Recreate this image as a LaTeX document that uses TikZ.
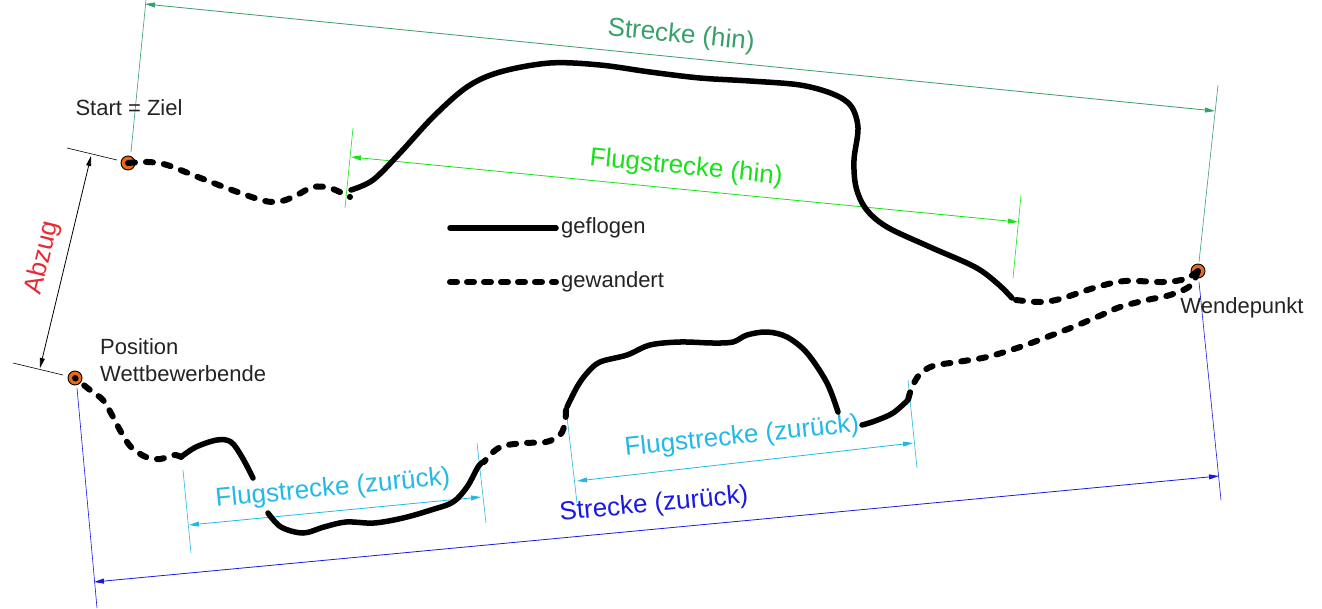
\documentclass[tikz,border=0pt]{standalone}
\usepackage{fontspec}
\setmainfont{Liberation Sans}
\usetikzlibrary{arrows.meta}
\definecolor{streckehin}{RGB}{55,160,105}
\definecolor{flughin}{RGB}{25,225,25}
\definecolor{flugzur}{RGB}{35,185,230}
\definecolor{streckezur}{RGB}{25,25,225}
\definecolor{abzugred}{RGB}{235,40,50}
\definecolor{dotorange}{RGB}{235,105,20}
\definecolor{txtgray}{RGB}{35,35,35}
\tikzset{
  dotnode/.style={circle,draw=black,line width=0.9pt,fill=dotorange,minimum size=14pt,inner sep=0pt},
  flown/.style={line width=5.5pt,line cap=round,black},
  walked/.style={line width=6pt,line cap=round,black,dash pattern=on 7pt off 11pt},
  dimline/.style={line width=0.8pt,{Triangle[length=10pt,width=5pt]}-{Triangle[length=10pt,width=5pt]}},
  extline/.style={line width=0.6pt},
  lbl/.style={text=txtgray,font=\fontsize{22}{27}\selectfont,inner sep=1pt},
  dimlbl/.style={font=\fontsize{26}{30}\selectfont,inner sep=1pt}
}
\begin{document}
\begin{tikzpicture}[x=1pt,y=-1pt]
\useasboundingbox (0,0) rectangle (1322,608);
% points
\node[dotnode] (start) at (128,163) {};
\node[dotnode] (pos) at (75,378) {};
\node[dotnode] (wende) at (1198,271) {};

% ---------- Strecke (hin)
\coordinate (shA1) at (131,152); \coordinate (shA2) at (146,0);
\coordinate (shB1) at (1199,262); \coordinate (shB2) at (1218,85);
\coordinate (shL) at (145,4); \coordinate (shR) at (1215,111);
\draw[extline,streckehin] (shA1) -- (shA2);
\draw[extline,streckehin] (shB1) -- (shB2);
\draw[dimline,streckehin] (shL) -- (shR);
\node[dimlbl,text=streckehin,rotate=-5.7] (tsh) at (681,36) {Strecke (hin)};

% ---------- Flugstrecke (hin)
\coordinate (fhA1) at (345,208); \coordinate (fhA2) at (353,128);
\coordinate (fhB1) at (1013,278); \coordinate (fhB2) at (1021,195);
\coordinate (fhL) at (351,157); \coordinate (fhR) at (1018,222);
\draw[extline,flughin] (fhA1) -- (fhA2);
\draw[extline,flughin] (fhB1) -- (fhB2);
\draw[dimline,flughin] (fhL) -- (fhR);
\node[dimlbl,text=flughin,rotate=-5.7] (tfh) at (686,168) {Flugstrecke (hin)};

% ---------- Strecke (zurück)
\coordinate (szA1) at (77,388); \coordinate (szA2) at (97,608);
\coordinate (szB1) at (1199,282); \coordinate (szB2) at (1221,500);
\coordinate (szL) at (94,582); \coordinate (szR) at (1219,476);
\draw[extline,streckezur] (szA1) -- (szA2);
\draw[extline,streckezur] (szB1) -- (szB2);
\draw[dimline,streckezur] (szL) -- (szR);
\node[dimlbl,text=streckezur,rotate=5.4] (tsz) at (654,505) {Strecke (zurück)};

% ---------- Flugstrecke (zurück) left
\coordinate (fzA1) at (183,470); \coordinate (fzA2) at (191,553);
\coordinate (fzB1) at (477,443); \coordinate (fzB2) at (486,523);
\coordinate (fzL) at (189,525); \coordinate (fzR) at (481,497);
\draw[extline,flugzur] (fzA1) -- (fzA2);
\draw[extline,flugzur] (fzB1) -- (fzB2);
\draw[dimline,flugzur] (fzL) -- (fzR);
\node[dimlbl,text=flugzur,rotate=5.5] (tfz1) at (333,489) {Flugstrecke (zurück)};

% ---------- Flugstrecke (zurück) right
\coordinate (gzA1) at (566,408); \coordinate (gzA2) at (577,503);
\coordinate (gzB1) at (908,380); \coordinate (gzB2) at (917,468);
\coordinate (gzL) at (577,481); \coordinate (gzR) at (913,443);
\draw[extline,flugzur] (gzA1) -- (gzA2);
\draw[extline,flugzur] (gzB1) -- (gzB2);
\draw[dimline,flugzur] (gzL) -- (gzR);
\node[dimlbl,text=flugzur,rotate=6] (tfz2) at (742,437) {Flugstrecke (zurück)};

% ---------- Abzug
\coordinate (abA1) at (67,148); \coordinate (abA2) at (117,160);
\coordinate (abB1) at (13,363); \coordinate (abB2) at (63,375);
\coordinate (abT) at (91,156); \coordinate (abB) at (40,368);
\draw[extline,black] (abA1) -- (abA2);
\draw[extline,black] (abB1) -- (abB2);
\draw[dimline,black] (abT) -- (abB);
\node[dimlbl,text=abzugred,rotate=76] (tab) at (43,258) {Abzug};

% ---------- outward route
\draw[walked] plot[smooth,tension=0.55] coordinates {(start.center) (148,162) (167,165) (198,177) (232,190) (265,201) (282,201) (297,195) (313,187) (330,188) (350,197)};
\draw[flown] plot[smooth,tension=0.55] coordinates {(351,190) (373,180) (400,153) (433,117) (467,87) (500,72) (550,63) (600,65) (650,72) (700,78) (750,81) (800,85) (833,94) (851,106) (858,128) (854,160) (856,187) (866,209) (887,227) (930,247) (975,267) (998,284) (1012,298)};
\draw[walked] plot[smooth,tension=0.55] coordinates {(1016,300) (1040,302) (1060,299) (1097,287) (1125,281) (1163,282) (1185,279) (wende.center)};

% ---------- return route
\draw[walked] plot[smooth,tension=0.55] coordinates {(wende.center) (1190,286) (1170,295) (1147,300) (1120,307) (1097,317) (1073,327) (1047,337) (1020,347) (987,357) (957,362) (933,366) (920,374) (912,387) (908,400)};
\draw[flown] plot[smooth,tension=0.55] coordinates {(908,400) (893,413) (875,421) (862,425)};
\draw[flown] plot[smooth,tension=0.55] coordinates {(838,412) (827,383) (807,353) (787,337) (767,332) (747,335) (733,342) (713,343) (680,342) (650,345) (627,355) (600,362) (587,373) (577,387) (567,407)};
\draw[walked] plot[smooth,tension=0.55] coordinates {(566,410) (565,423) (560,435) (546,442) (524,443) (503,446) (492,453) (484,462)};
\draw[flown] plot[smooth,tension=0.55] coordinates {(483,462) (478,467) (467,487) (453,502) (431,510) (403,518) (374,523) (346,522) (324,527) (303,533) (281,527) (268,513)};
\draw[flown] plot[smooth,tension=0.55] coordinates {(253,478) (242,457) (231,442) (217,440) (196,447) (181,457)};
\draw[walked] plot[smooth,tension=0.55] coordinates {(181,457) (174,455) (160,459) (146,457) (131,447) (121,432) (112,415) (103,400) (90,390) (pos.center)};

% ---------- labels
\node[lbl] (tstart) at (129,108) {Start = Ziel};
\node[lbl,anchor=north west,align=left] (tpos) at (99,337) {Position\\Wettbewerbende};
\node[lbl] (twende) at (1242,308) {Wendepunkt};

% ---------- legend
\coordinate (lg1a) at (450,228); \coordinate (lg1b) at (556,228);
\coordinate (lg2a) at (450,282); \coordinate (lg2b) at (556,282);
\draw[flown] (lg1a) -- (lg1b);
\draw[walked,dash pattern=on 7pt off 10pt] (lg2a) -- (lg2b);
\node[lbl,anchor=west] (tgef) at (560,228) {geflogen};
\node[lbl,anchor=west] (tgew) at (560,282) {gewandert};
\end{tikzpicture}
\end{document}
